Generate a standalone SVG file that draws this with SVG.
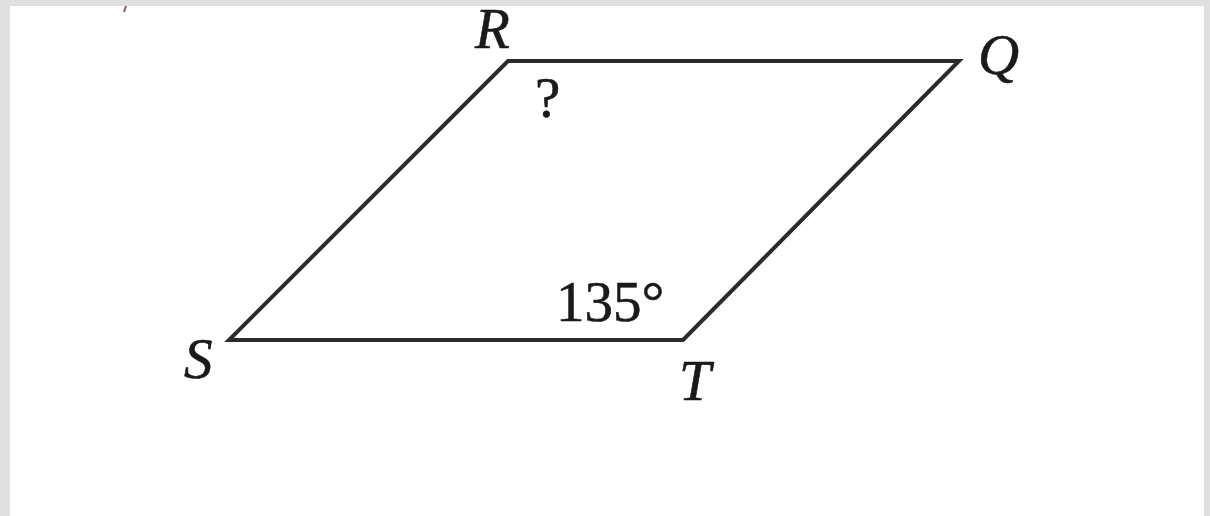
<svg xmlns="http://www.w3.org/2000/svg" width="1210" height="516" viewBox="0 0 1210 516">
<style>
.lbl{font-family:"Liberation Serif","Times New Roman",serif;font-size:57px;fill:#1a1a1a;stroke:#1a1a1a;stroke-width:0.6}
.it{font-style:italic}
.edge{stroke:#2b2b2b;stroke-width:4;fill:none;stroke-linejoin:miter}
</style>
<rect width="1210" height="516" fill="#e0e0e0"/>
<rect x="10" y="6" width="1194" height="510" fill="#ffffff"/>
<path d="M126 6 L124 12" stroke="#8a5a66" stroke-width="2" fill="none"/>
<g id="connectors">
<path class="edge" d="M508 61 L959 61 L683 340 L229 340 Z"/>
</g>
<g id="R"><text class="lbl it" x="475" y="48">R</text></g>
<g id="Q"><text class="lbl it" x="978" y="74">Q</text></g>
<g id="S"><text class="lbl it" x="184" y="378">S</text></g>
<g id="T"><text class="lbl it" x="679" y="400">T</text></g>
<g id="angleR"><text class="lbl" x="535" y="117">?</text></g>
<g id="angleT"><text class="lbl" x="556" y="321">135°</text></g>
</svg>
